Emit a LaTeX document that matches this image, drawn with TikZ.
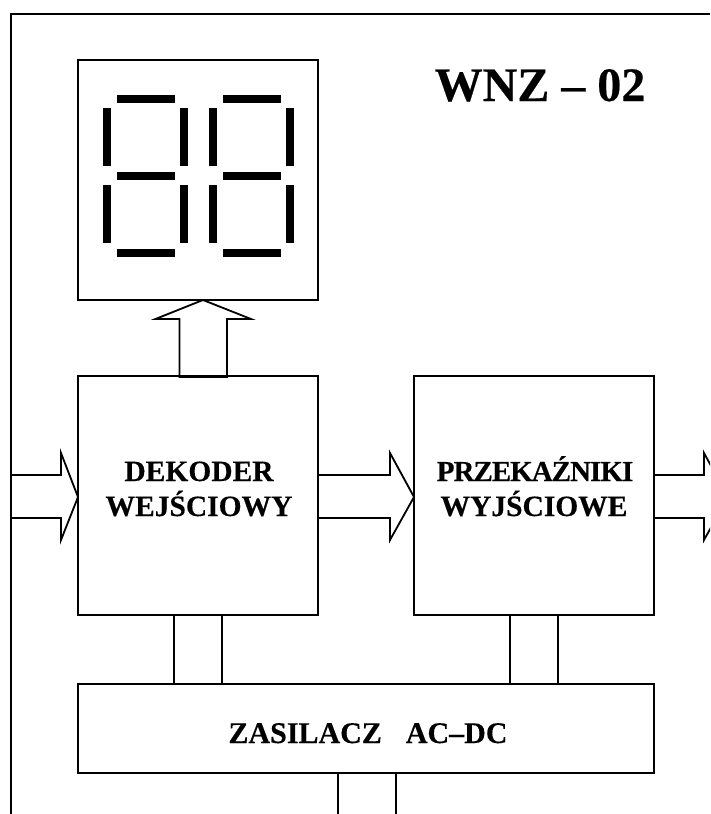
\documentclass[tikz,border=0pt]{standalone}
\usepackage{fontspec}
\setmainfont{Liberation Serif}
\tikzset{
  x=1pt,y=-1pt,
  blk/.style={draw=black,line width=1.8pt,fill=white,inner sep=0pt,outer sep=0pt},
  wire/.style={draw=black,line width=1.8pt,line join=miter},
  frameline/.style={draw=black,line width=2pt},
  seg/.style={fill=black,draw=none},
  lab/.style={font=\bfseries\fontsize{#1}{29}\selectfont\addfontfeature{FakeBold=0.3},align=center,inner sep=0pt,anchor=base},
  ttl/.style={font=\bfseries\fontsize{48}{56}\selectfont\addfontfeature{FakeBold=0.4},inner sep=0pt,anchor=base},
}
\newcommand{\hseg}[2]{\fill[seg] (#1,#2) rectangle ++(57.5,8);}
\newcommand{\vseg}[2]{\fill[seg] (#1,#2) rectangle ++(8,58);}
\newcommand{\digit}[1]{%
  \hseg{#1+14}{95}\hseg{#1+14}{172}\hseg{#1+14}{249}%
  \vseg{#1}{108}\vseg{#1}{185}\vseg{#1+77}{108}\vseg{#1+77}{185}}
\begin{document}
\begin{tikzpicture}
\useasboundingbox (0,0) rectangle (710,814);
\clip (0,0) rectangle (710,814);
\coordinate (fa) at (11,814);
\coordinate (fb) at (11,14);
\coordinate (fc) at (710,14);
\draw[frameline] (fa) -- (fb) -- (fc);
% boxes
\node[blk,minimum width=240pt,minimum height=240pt] (disp) at (198,180) {};
\node[blk,minimum width=240pt,minimum height=239pt] (dek) at (198,495.5) {};
\node[blk,minimum width=240pt,minimum height=239pt] (prz) at (534,495.5) {};
\node[blk,minimum width=576pt,minimum height=89pt] (zas) at (366,728.5) {};
\digit{103}\digit{209}
% display arrow
\draw[wire] ([xshift=-18.5pt,yshift=-1pt]dek.north) -- ++(0,-58) -- ++(-24,0) -- ([xshift=5pt]disp.south) -- ++(48,19) -- ++(-24,0) -- ++(0,58) -- cycle;
% input arrow
\coordinate (inA) at (11,475);
\coordinate (inB) at (11,518);
\coordinate (inTip) at (78,497);
\draw[wire] (inA) -- (61,475) -- (61,453) -- (inTip) -- (61,540) -- (61,518) -- (inB);
% middle arrow
\coordinate (mA) at (dek.east |- inA);
\coordinate (mB) at (dek.east |- inB);
\coordinate (mTip) at (prz.west |- inTip);
\draw[wire] (mA) -- (390,475) -- (390,453) -- (mTip) -- (390,540) -- (390,518) -- (mB);
% output arrow
\coordinate (oA) at (prz.east |- inA);
\coordinate (oB) at (prz.east |- inB);
\coordinate (oTip) at (728,497);
\draw[wire] (oA) -- (704,475) -- (704,453) -- (oTip) -- (704,540) -- (704,518) -- (oB);
% power links
\draw[wire] (dek.south -| 174,0) -- (zas.north -| 174,0);
\draw[wire] (dek.south -| 222,0) -- (zas.north -| 222,0);
\draw[wire] (prz.south -| 510,0) -- (zas.north -| 510,0);
\draw[wire] (prz.south -| 558,0) -- (zas.north -| 558,0);
\coordinate (pwrA) at (338,814);
\coordinate (pwrB) at (396,814);
\draw[wire] (zas.south -| pwrA) -- (pwrA);
\draw[wire] (zas.south -| pwrB) -- (pwrB);
% texts
\node[ttl] (title) at (540,101) {WNZ – 02};
\node[lab=29.5] (t1) at (199,481) {DEKODER};
\node[lab=29.5] (t2) at (199,516) {WEJŚCIOWY};
\node[lab=29] (t3) at (535,481) {\addfontfeature{LetterSpace=-3.4}PRZEKAŹNIKI};
\node[lab=29.5] (t4) at (534,516) {WYJŚCIOWE};
\node[lab=30] (t5) at (368,743) {ZASILACZ\hspace{0.8em}AC–DC};
\end{tikzpicture}
\end{document}
